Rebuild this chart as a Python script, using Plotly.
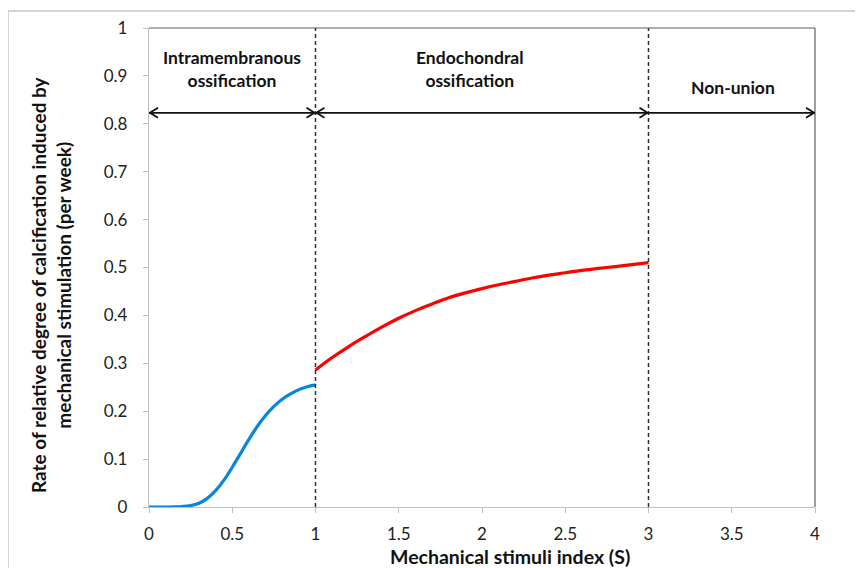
import plotly.graph_objects as go

# Intramembranous ossification (blue) curve
s_intra = [0.0, 0.05, 0.1, 0.15, 0.2, 0.25, 0.3, 0.35, 0.4, 0.45, 0.5, 0.55, 0.6,
           0.65, 0.7, 0.75, 0.8, 0.85, 0.9, 0.95, 1.0]
rate_intra = [0.0, 0.0, 0.0, 0.0002, 0.001, 0.003, 0.008, 0.018, 0.034, 0.056, 0.083,
              0.112, 0.141, 0.168, 0.191, 0.210, 0.225, 0.236, 0.245, 0.251, 0.255]

# Endochondral ossification (red) curve
s_endo = [1.0, 1.1, 1.2, 1.3, 1.4, 1.5, 1.6, 1.7, 1.8, 1.9, 2.0, 2.1, 2.2, 2.3, 2.4,
          2.5, 2.6, 2.7, 2.8, 2.9, 3.0]
rate_endo = [0.286, 0.312, 0.335, 0.356, 0.376, 0.394, 0.410, 0.424, 0.437, 0.447, 0.456,
             0.464, 0.471, 0.478, 0.484, 0.489, 0.494, 0.498, 0.502, 0.506, 0.510]

# Region boundaries and labels
boundaries = [1, 3]
region_spans = [(0, 1, True, True), (1, 3, True, True), (3, 4, False, True)]
region_labels = ["Intramembranous<br>ossification", "Endochondral<br>ossification", "Non-union"]
region_label_x = [0.5, 1.93, 3.51]
region_label_y = [0.914, 0.914, 0.875]
arrow_y = 0.823

x_ticks = [0, 0.5, 1, 1.5, 2, 2.5, 3, 3.5, 4]
x_tick_text = ["0", "0.5", "1", "1.5", "2", "2.5", "3", "3.5", "4"]
y_ticks = [0, 0.1, 0.2, 0.3, 0.4, 0.5, 0.6, 0.7, 0.8, 0.9, 1.0]
y_tick_text = ["0", "0.1", "0.2", "0.3", "0.4", "0.5", "0.6", "0.7", "0.8", "0.9", "1"]

FONT = "Lato, 'Open Sans', sans-serif"

# page body has an 8px margin; plot area should span x 149..815, y 28..507 on the page
OFF = 8
PL, PR, PT, PB = 149, 815, 28, 507
PW, PH = PR - PL, PB - PT

def px(xpage):
    return (xpage - PL) / PW

def py(ypage):
    return (PB - ypage) / PH

fig = go.Figure()
fig.add_trace(go.Scatter(x=s_intra, y=rate_intra, mode="lines",
                         line=dict(color="#0A84DC", width=3.2, shape="spline"),
                         showlegend=False, hoverinfo="skip"))
fig.add_trace(go.Scatter(x=s_endo, y=rate_endo, mode="lines",
                         line=dict(color="#FF0000", width=3.2, shape="spline"),
                         showlegend=False, hoverinfo="skip"))

shapes = []
# outer chart border (light grey)
shapes.append(dict(type="rect", xref="paper", yref="paper", x0=px(8), x1=px(900), y0=py(600), y1=py(11),
                   line=dict(color="#C8C8C8", width=1.5), fillcolor="rgba(0,0,0,0)", layer="below"))
# plot area top and right border
shapes.append(dict(type="line", xref="paper", yref="paper", x0=0, x1=1, y0=1, y1=1,
                   line=dict(color="#606060", width=1.2)))
shapes.append(dict(type="line", xref="paper", yref="paper", x0=1, x1=1, y0=0, y1=1,
                   line=dict(color="#606060", width=1.2)))
# dashed boundaries
for b in boundaries:
    shapes.append(dict(type="line", xref="x", yref="y", x0=b, x1=b, y0=0, y1=1,
                       line=dict(color="#303030", width=1.5, dash="4px,3px")))
# arrows
for x0, x1, head_left, head_right in region_spans:
    shapes.append(dict(type="line", xref="x", yref="y", x0=x0, x1=x1, y0=arrow_y, y1=arrow_y,
                       line=dict(color="#111111", width=1.8)))
    if head_left:
        shapes.append(dict(type="path", xref="x", yref="y", xsizemode="pixel", ysizemode="pixel",
                           xanchor=x0, yanchor=arrow_y, path="M 9 -5 L 1 0 L 9 5",
                           line=dict(color="#111111", width=1.8)))
    if head_right:
        shapes.append(dict(type="path", xref="x", yref="y", xsizemode="pixel", ysizemode="pixel",
                           xanchor=x1, yanchor=arrow_y, path="M -9 -5 L -1 0 L -9 5",
                           line=dict(color="#111111", width=1.8)))

annotations = []
for lbl, lx, ly in zip(region_labels, region_label_x, region_label_y):
    annotations.append(dict(x=lx, y=ly, xref="x", yref="y", text="<b>" + lbl + "</b>",
                            showarrow=False, font=dict(family=FONT, size=17.5, color="#111111"),
                            align="center"))
# y axis title
annotations.append(dict(x=px(51), y=py(285), xref="paper", yref="paper", xanchor="center", yanchor="middle",
                        text="<b>Rate of relative degree of calcification induced by<br>mechanical stimulation (per week)</b>",
                        textangle=-90, showarrow=False, font=dict(family=FONT, size=19, color="#111111")))
# x axis title
annotations.append(dict(x=px(510), y=py(556), xref="paper", yref="paper",
                        xanchor="center", yanchor="middle",
                        text="<b>Mechanical stimuli index (S)</b>", showarrow=False,
                        font=dict(family=FONT, size=19.5, color="#111111")))

fig.update_layout(
    width=863 - OFF, height=568 - OFF,
    margin=dict(l=PL - OFF, r=863 - PR, t=PT - OFF, b=568 - PB, autoexpand=False),
    paper_bgcolor="white", plot_bgcolor="white",
    shapes=shapes, annotations=annotations,
    font=dict(family=FONT, color="#222222"),
    xaxis=dict(range=[0, 4], tickvals=x_ticks, ticktext=x_tick_text, showgrid=False,
               zeroline=False, showline=True, linecolor="#BFBFBF", linewidth=1.3,
               ticks="outside", ticklen=5, tickcolor="#BFBFBF", tickwidth=1.3,
               tickfont=dict(family=FONT, size=17, color="#222222"), ticklabelstandoff=6),
    yaxis=dict(range=[0, 1], tickvals=y_ticks, ticktext=y_tick_text, showgrid=False,
               zeroline=False, showline=True, linecolor="#BFBFBF", linewidth=1.3,
               ticks="outside", ticklen=5, tickcolor="#BFBFBF", tickwidth=1.3,
               tickfont=dict(family=FONT, size=17, color="#222222"), ticklabelstandoff=12),
)

fig.write_html("out.html")
